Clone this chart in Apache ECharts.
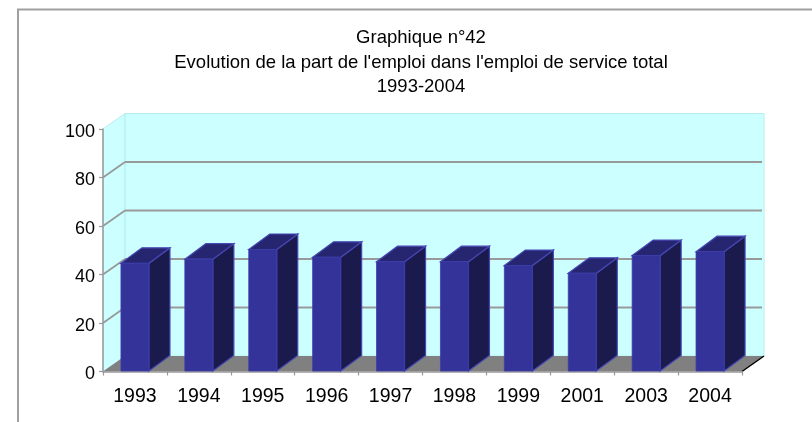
<!DOCTYPE html>
<html><head><meta charset="utf-8">
<style>html,body{margin:0;padding:0;background:#fff}#c{width:812px;height:422px}</style>
<script src="https://cdn.jsdelivr.net/npm/echarts@6/dist/echarts.min.js"></script>
</head><body><div id="c"></div>
<script>
const titleLines = ["Graphique n°42", "Evolution de la part de l'emploi dans l'emploi de service total", "1993-2004"];
const categories = ["1993","1994","1995","1996","1997","1998","1999","2001","2003","2004"];
const shareValues = [44.6,46.3,50.3,47.1,45.3,45.3,43.7,40.5,47.8,49.4];
const yTicks = [0,20,40,60,80,100];

const DX = 22, DY = -15.5, BAR_DX = 21, BAR_DY = -15.5, BAR_W = 28;
const chart = echarts.init(document.getElementById('c'), null, {renderer:'canvas'});

function poly(points, fill, stroke, lw){
  return {type:'polygon', shape:{points}, style:{fill, stroke:stroke||null, lineWidth:lw||0}};
}
function edges(api){
  const band = api.size([1,0])[0];
  return {band, left: api.coord([0,0])[0]-band/2, right: api.coord([categories.length-1,0])[0]+band/2};
}
function renderWalls(params, api){
  const e = edges(api);
  const y0 = api.coord([0,yTicks[0]])[1], y1 = api.coord([0,yTicks[yTicks.length-1]])[1];
  return {type:'group', children:[
    poly([[e.left,y0],[e.left+DX,y0+DY],[e.left+DX,y1+DY],[e.left,y1]],'#ccffff','#b5eeee',1),
    poly([[e.left+DX,y0+DY],[e.right+DX,y0+DY],[e.right+DX,y1+DY],[e.left+DX,y1+DY]],'#ccffff','#b5eeee',1),
    poly([[e.left,y0],[e.left+DX,y0+DY],[e.right+DX,y0+DY],[e.right,y0]],'#808080'),
    {type:'line', shape:{x1:e.right,y1:y0,x2:e.right+DX,y2:y0+DY}, style:{stroke:'#000',lineWidth:1.5}}
  ]};
}
function renderGrid(params, api){
  const e = edges(api), y = api.coord([0,api.value(1)])[1], s = {stroke:'#999999',lineWidth:1.8};
  const isTop = api.value(1) === yTicks[yTicks.length-1];
  if (api.value(1) === yTicks[0] || isTop) return {type:'group',children:[]};
  return {type:'group', children:[
    {type:'line', shape:{x1:e.left,y1:y,x2:e.left+DX,y2:y+DY}, style:s},
    {type:'line', shape:{x1:e.left+DX,y1:y+DY,x2:e.right+DX-2,y2:y+DY}, style:s}
  ]};
}
function renderBar(params, api){
  const c = api.coord([api.value(0),api.value(1)]), b = api.coord([api.value(0),0]);
  const x0 = c[0]-BAR_W/2, x1 = c[0]+BAR_W/2, t = c[1], y = b[1]-0.5;
  const edge = '#4646b4';
  return {type:'group', children:[
    poly([[x1,y],[x1+BAR_DX,y+BAR_DY],[x1+BAR_DX,t+BAR_DY],[x1,t]],'#1a1a4d',edge,1.2),
    poly([[x0,t],[x0+BAR_DX,t+BAR_DY],[x1+BAR_DX,t+BAR_DY],[x1,t]],'#262670',edge,1.2),
    poly([[x0,y],[x1,y],[x1,t],[x0,t]],'#333399','#3c3ca8',0.8)
  ]};
}
chart.setOption({
  animation:false,
  backgroundColor:'#ffffff',
  textStyle:{fontFamily:'"Liberation Sans", Arial, sans-serif'},
  title:{
    text:titleLines.join('\n'), left:416, top:21, textAlign:'center',
    textStyle:{fontFamily:'"Liberation Sans", Arial, sans-serif',fontSize:18.5,fontWeight:'normal',color:'#000',lineHeight:24.5}
  },
  graphic:[{type:'polyline',z:0,shape:{points:[[18,422],[18,9.5],[812,9.5]]},style:{fill:null,stroke:'#a0a0a0',lineWidth:2}}],
  grid:{left:103,right:70,top:129,bottom:50.5},
  xAxis:{type:'category',data:categories,boundaryGap:true,z:3,
    axisLine:{show:true,lineStyle:{color:'#999999',width:1.5}},
    axisTick:{show:true,alignWithLabel:false,length:4,lineStyle:{color:'#999999',width:1.2}},
    axisLabel:{color:'#000',fontSize:19.5,margin:15,fontFamily:'"Liberation Sans", Arial, sans-serif'},
    splitLine:{show:false}},
  yAxis:{type:'value',min:0,max:100,interval:20,z:3,
    axisLine:{show:true,lineStyle:{color:'#999999',width:1.5}},
    axisTick:{show:true,length:4,lineStyle:{color:'#999999',width:1.2}},
    axisLabel:{color:'#000',fontSize:18,margin:8,verticalAlign:'top',lineHeight:6,fontFamily:'"Liberation Sans", Arial, sans-serif'},
    splitLine:{show:false}},
  tooltip:{show:false},
  series:[
    {type:'custom',z:1,silent:true,clip:false,renderItem:renderWalls,data:[[0,0]]},
    {type:'custom',z:2,silent:true,clip:false,renderItem:renderGrid,data:yTicks.map(v=>[0,v])},
    {type:'custom',z:4,silent:true,clip:false,renderItem:renderBar,data:shareValues.map((v,i)=>[i,v])}
  ]
});
</script></body></html>
